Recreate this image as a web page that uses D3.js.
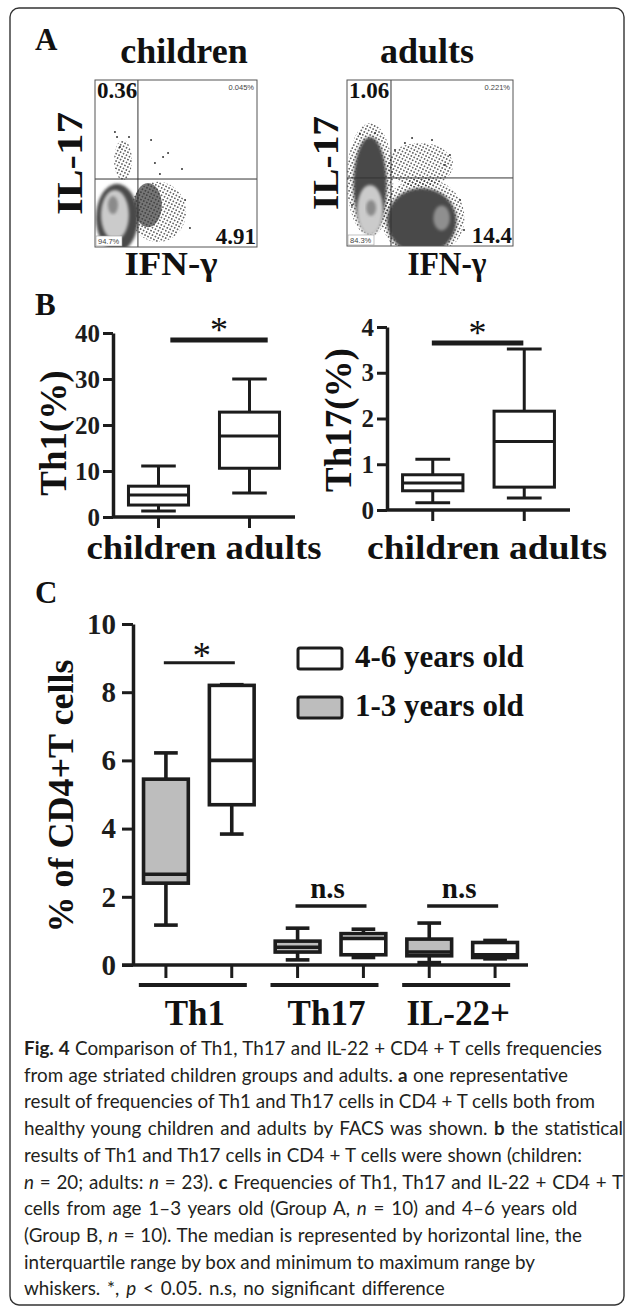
<!DOCTYPE html>
<html>
<head>
<meta charset="utf-8">
<script src="https://cdnjs.cloudflare.com/ajax/libs/d3/7.8.5/d3.min.js"></script>
<style>
  body { margin: 0; background: #fff; }
  svg text { font-family: "Liberation Serif", "Times New Roman", serif; fill: #111; }
</style>
</head>
<body>
<svg id="fig" width="627" height="1309"></svg>
<script>
// ---------- data ----------
// A: flow cytometry, quadrant percentages (children, adults)
const facsGroups = ['children', 'adults'];
const quadUL = ['0.36', '1.06'];
const quadUR = ['0.045%', '0.221%'];
const quadLL = ['94.7%', '84.3%'];
const quadLR = ['4.91', '14.4'];
const gateX = [26.5, 26.5];   // IFN-g gate, 0-100 channel units
const gateY = [40.7, 41.0];   // IL-17 gate
// populations: [kind, cx, cy, rx, ry] in channel units
const popsChildren = [
  ['speck', 38.9, 21.0, 17.3, 18.0],
  ['dense', 32.7, 25.1, 8.6, 13.2],
  ['speck', 17.3, 52.0, 5.5, 12.0],
  ['solid', 13.6, 17.4, 13.0, 20.4],
  ['light', 12.3, 19.2, 8.6, 15.0],
  ['core', 11.1, 25.1, 3.1, 5.4]
];
const popsAdults = [
  ['speck', 44.0, 48.8, 19.9, 13.3],
  ['speck', 45.8, 17.0, 25.0, 24.0],
  ['solid', 45.0, 15.0, 21.0, 20.0],
  ['speck', 13.9, 40.0, 14.0, 34.0],
  ['solid', 13.9, 36.7, 10.0, 29.0],
  ['mid', 57.0, 16.9, 5.0, 7.5],
  ['light', 13.9, 21.7, 7.8, 15.1],
  ['core', 14.5, 22.9, 3.0, 4.8]
];
// scattered single events [x, y]
const eventsChildren = [[34.6, 64.1], [45.1, 56.3], [42.0, 53.9], [37.0, 50.3], [53.7, 46.7], [40.1, 43.7],
  [13.6, 65.9], [21.0, 65.9], [15.4, 59.9], [58.6, 11.4], [55.6, 28.1], [12.3, 68.9]];
const eventsAdults = [[51.2, 63.9], [34.9, 62.0], [39.2, 65.1], [28.9, 57.8], [62.0, 54.8], [59.0, 48.8],
  [68.1, 27.7], [70.5, 9.6], [3.0, 24.7], [7.8, 67.5], [16.9, 68.1]];

// B: box plots [min, q1, median, q3, max]
const bGroups = ['children', 'adults'];
const th1Box = [[1.3, 2.6, 4.8, 6.7, 11.1], [5.2, 10.6, 17.6, 22.8, 30.0]];
const th17Box = [[0.16, 0.42, 0.59, 0.77, 1.11], [0.26, 0.50, 1.50, 2.16, 3.52]];
const th1Ticks = [0, 10, 20, 30, 40];
const th17Ticks = [0, 1, 2, 3, 4];
const th1SigY = 38.5;
const th17SigY = 3.65;

// C: age groups
const cCats = ['Th1', 'Th17', 'IL-22+'];
const cAges = ['1-3', '4-6'];
const box13 = [[1.17, 2.40, 2.66, 5.45, 6.22], [0.15, 0.38, 0.52, 0.70, 1.08], [0.07, 0.27, 0.38, 0.76, 1.23]];
const box46 = [[3.84, 4.70, 6.00, 8.20, 8.22], [0.22, 0.30, 0.78, 0.92, 1.05], [0.18, 0.22, 0.30, 0.66, 0.72]];
const cTicks = [0, 2, 4, 6, 8, 10];
const cSig = ['*', 'n.s', 'n.s'];
const cSigY = [8.86, 1.73, 1.73];
const legendLabels = ['4-6 years old', '1-3 years old'];

const captionLines = [
  [['b', 'Fig. 4'], ['', ' Comparison of Th1, Th17 and IL-22 + CD4 + T cells frequencies']],
  [['', 'from age striated children groups and adults. '], ['b', 'a'], ['', ' one representative']],
  [['', 'result of frequencies of Th1 and Th17 cells in CD4 + T cells both from']],
  [['', 'healthy young children and adults by FACS was shown. '], ['b', 'b'], ['', ' the statistical']],
  [['', 'results of Th1 and Th17 cells in CD4 + T cells were shown (children:']],
  [['i', 'n'], ['', ' = 20; adults: '], ['i', 'n'], ['', ' = 23). '], ['b', 'c'], ['', ' Frequencies of Th1, Th17 and IL-22 + CD4 + T']],
  [['', 'cells from age 1–3 years old (Group A, '], ['i', 'n'], ['', ' = 10) and 4–6 years old']],
  [['', '(Group B, '], ['i', 'n'], ['', ' = 10). The median is represented by horizontal line, the']],
  [['', 'interquartile range by box and minimum to maximum range by']],
  [['', 'whiskers. *, '], ['i', 'p'], ['', ' < 0.05. n.s, no significant difference']]
];
const captionEnds = [602, 568, 595, 623, 582, 623, 582, 582, 535, 462];

// ---------- drawing ----------
const svg = d3.select('#fig');
const ink = '#1c1c1c';
const defs = svg.append('defs');

[['speck', 3.3, 0.8], ['dense', 1.9, 0.85]].forEach(([id, s, r]) => {
  const p = defs.append('pattern').attr('id', id)
    .attr('patternUnits', 'userSpaceOnUse')
    .attr('width', s).attr('height', s)
    .attr('patternTransform', 'rotate(27)');
  p.append('circle').attr('cx', s / 2).attr('cy', s / 2).attr('r', r).attr('fill', '#333');
});
defs.append('filter').attr('id', 'soft')
  .append('feGaussianBlur').attr('stdDeviation', 1.6);

const popFill = {speck: 'url(#speck)', dense: 'url(#dense)', solid: '#484848', light: '#cbcbcb', mid: '#8f8f8f', core: '#8a8a8a'};
const blurred = new Set(['light', 'core', 'mid', 'solid']);

// outer frame
svg.append('rect').attr('x', 10).attr('y', 8).attr('width', 614).attr('height', 1297)
  .attr('rx', 9).attr('fill', 'none').attr('stroke', '#333').attr('stroke-width', 1.4);

const panelLabel = (t, x, y) => svg.append('text').attr('x', x).attr('y', y)
  .attr('font-size', 31).attr('font-weight', 'bold').text(t);
panelLabel('A', 35, 50);
panelLabel('B', 35, 315);
panelLabel('C', 35, 603);

// ----- A -----
const facsRects = [[95, 80, 162, 167], [347, 80, 166, 166]];
const facsPops = [popsChildren, popsAdults];
const facsEvents = [eventsChildren, eventsAdults];
const facsTitleX = [184, 427];
const ylabX = [82, 338];
const ylabLen = [103, 94];
const xlabX = [171, 447];
const xlabLen = [93, 79];

facsGroups.forEach((grp, i) => {
  const [px, py, pw, ph] = facsRects[i];
  const fx = d3.scaleLinear().domain([0, 100]).range([px, px + pw]);
  const fy = d3.scaleLinear().domain([0, 100]).range([py + ph, py]);
  const g = svg.append('g');

  defs.append('clipPath').attr('id', 'clip' + i)
    .append('rect').attr('x', px).attr('y', py).attr('width', pw).attr('height', ph);
  const inner = g.append('g').attr('clip-path', `url(#clip${i})`);

  inner.selectAll('ellipse').data(facsPops[i]).join('ellipse')
    .attr('cx', d => fx(d[1])).attr('cy', d => fy(d[2]))
    .attr('rx', d => fx(d[3]) - fx(0)).attr('ry', d => fy(0) - fy(d[4]))
    .attr('fill', d => popFill[d[0]])
    .attr('filter', d => blurred.has(d[0]) ? 'url(#soft)' : null);

  inner.selectAll('circle').data(facsEvents[i]).join('circle')
    .attr('cx', d => fx(d[0])).attr('cy', d => fy(d[1])).attr('r', 1)
    .attr('fill', '#333');

  // gates
  g.append('line').attr('x1', fx(gateX[i])).attr('x2', fx(gateX[i]))
    .attr('y1', fy(0)).attr('y2', fy(100)).attr('stroke', '#333').attr('stroke-width', 1);
  g.append('line').attr('x1', fx(0)).attr('x2', fx(100))
    .attr('y1', fy(gateY[i])).attr('y2', fy(gateY[i])).attr('stroke', '#333').attr('stroke-width', 1);
  g.append('rect').attr('x', px).attr('y', py).attr('width', pw).attr('height', ph)
    .attr('fill', 'none').attr('stroke', '#555').attr('stroke-width', 1);

  // quadrant labels
  g.append('text').attr('x', px + 2).attr('y', py + 18).attr('font-size', 23)
    .attr('font-weight', 'bold').text(quadUL[i]);
  g.append('text').attr('x', px + pw - 3).attr('y', py + 10).attr('text-anchor', 'end')
    .attr('font-size', 7.5).style('font-family', '"Liberation Sans", Arial, sans-serif')
    .style('fill', '#444').text(quadUR[i]);
  g.append('rect').attr('x', px + 1).attr('y', py + ph - 11).attr('width', 26).attr('height', 10)
    .attr('fill', '#fff').attr('stroke', '#999').attr('stroke-width', 0.6);
  g.append('text').attr('x', px + 3).attr('y', py + ph - 3).attr('font-size', 7.5)
    .style('font-family', '"Liberation Sans", Arial, sans-serif').style('fill', '#444').text(quadLL[i]);
  g.append('text').attr('x', px + pw - 1).attr('y', py + ph - 3).attr('text-anchor', 'end')
    .attr('font-size', 23).attr('font-weight', 'bold').text(quadLR[i]);

  // titles / axis labels
  svg.append('text').attr('x', facsTitleX[i]).attr('y', 63).attr('text-anchor', 'middle')
    .attr('font-size', 36).attr('font-weight', 'bold').text(grp);
  svg.append('text').attr('transform', `translate(${ylabX[i]},${py + ph / 2}) rotate(-90)`)
    .attr('text-anchor', 'middle').attr('font-size', 35).attr('font-weight', 'bold')
    .attr('textLength', ylabLen[i]).attr('lengthAdjust', 'spacingAndGlyphs').text('IL-17');
  svg.append('text').attr('x', xlabX[i]).attr('y', 275).attr('text-anchor', 'middle')
    .attr('font-size', 33).attr('font-weight', 'bold')
    .attr('textLength', xlabLen[i]).attr('lengthAdjust', 'spacingAndGlyphs').text('IFN-γ');
});

// ----- box helper -----
function drawBox(g, cx, bw, capW, s, y, fill, sw) {
  const [mn, q1, md, q3, mx] = s;
  const st = el => el.attr('stroke', ink).attr('stroke-width', sw);
  st(g.append('line').attr('x1', cx).attr('x2', cx).attr('y1', y(mx)).attr('y2', y(q3)));
  st(g.append('line').attr('x1', cx).attr('x2', cx).attr('y1', y(q1)).attr('y2', y(mn)));
  st(g.append('line').attr('x1', cx - capW / 2).attr('x2', cx + capW / 2).attr('y1', y(mx)).attr('y2', y(mx)));
  st(g.append('line').attr('x1', cx - capW / 2).attr('x2', cx + capW / 2).attr('y1', y(mn)).attr('y2', y(mn)));
  st(g.append('rect').attr('x', cx - bw / 2).attr('y', y(q3)).attr('width', bw)
    .attr('height', y(q1) - y(q3)).attr('fill', fill));
  st(g.append('line').attr('x1', cx - bw / 2).attr('x2', cx + bw / 2).attr('y1', y(md)).attr('y2', y(md)));
}

function styleAxis(ax, fs) {
  ax.attr('font-family', null).attr('font-size', null);
  ax.select('.domain').attr('stroke', ink).attr('stroke-width', 3.5);
  ax.selectAll('.tick line').attr('stroke', ink).attr('stroke-width', 3);
  ax.selectAll('.tick text').attr('font-size', fs).attr('font-weight', 'bold').style('fill', ink);
}

// ----- B -----
const bPlots = [
  {stats: th1Box, ticks: th1Ticks, sigY: th1SigY, label: 'Th1(%)', x0: 113, x1: 295, y0: 517, y1: 333,
    labX: 66, labY: 433, catX: 204, catLen: 235, sig: [0.13, 0.2]},
  {stats: th17Box, ticks: th17Ticks, sigY: th17SigY, label: 'Th17(%)', x0: 387, x1: 570, y0: 510, y1: 327,
    labX: 351, labY: 420, catX: 487, catLen: 240, sig: [-0.01, -0.01]}
];

bPlots.forEach(p => {
  const g = svg.append('g');
  const top = p.ticks[p.ticks.length - 1];
  const y = d3.scaleLinear().domain([0, top]).range([p.y0, p.y1]);
  const x = d3.scaleBand().domain(bGroups).range([p.x0, p.x1]);
  const bw = x.bandwidth();

  const ax = g.append('g').attr('transform', `translate(${p.x0},0)`)
    .call(d3.axisLeft(y).tickValues(p.ticks).tickFormat(d3.format('d'))
      .tickSize(10).tickSizeOuter(0).tickPadding(3));
  styleAxis(ax, 25);

  g.append('line').attr('x1', p.x0).attr('x2', p.x1).attr('y1', p.y0).attr('y2', p.y0)
    .attr('stroke', ink).attr('stroke-width', 3.5);
  g.selectAll('.xt').data(bGroups).join('line').attr('class', 'xt')
    .attr('x1', d => x(d) + bw / 2).attr('x2', d => x(d) + bw / 2)
    .attr('y1', p.y0).attr('y2', p.y0 + 11).attr('stroke', ink).attr('stroke-width', 3);

  bGroups.forEach((grp, k) => drawBox(g, x(grp) + bw / 2, bw * 0.66, bw * 0.38, p.stats[k], y, '#fff', 3));

  // significance
  const sx1 = x(bGroups[0]) + bw * (0.5 + p.sig[0]);
  const sx2 = x(bGroups[1]) + bw * (0.5 + p.sig[1]);
  g.append('line').attr('x1', sx1).attr('x2', sx2).attr('y1', y(p.sigY)).attr('y2', y(p.sigY))
    .attr('stroke', ink).attr('stroke-width', 5);
  g.append('text').attr('x', (sx1 + sx2) / 2).attr('y', y(p.sigY) + 2).attr('text-anchor', 'middle')
    .attr('font-size', 36).text('*');

  g.append('text').attr('transform', `translate(${p.labX},${p.labY}) rotate(-90)`)
    .attr('text-anchor', 'middle').attr('font-size', 37).attr('font-weight', 'bold').text(p.label);
  g.append('text').attr('x', p.catX).attr('y', 559).attr('text-anchor', 'middle')
    .attr('font-size', 34).attr('font-weight', 'bold')
    .attr('textLength', p.catLen).attr('lengthAdjust', 'spacingAndGlyphs').text(bGroups.join(' '));
});

// ----- C -----
{
  const g = svg.append('g');
  const y = d3.scaleLinear().domain([0, 10]).range([965, 624]);
  const x = d3.scaleBand().domain(cCats).range([133, 528]);
  const sub = d3.scaleBand().domain(cAges).range([0, x.bandwidth()]);
  const sbw = sub.bandwidth();
  const pos = (c, a) => x(c) + sub(a) + sbw / 2;

  const ax = g.append('g').attr('transform', 'translate(133,0)')
    .call(d3.axisLeft(y).tickValues(cTicks).tickSize(11).tickSizeOuter(0).tickPadding(6));
  styleAxis(ax, 29);

  g.append('line').attr('x1', 122).attr('x2', 528).attr('y1', 965).attr('y2', 965)
    .attr('stroke', ink).attr('stroke-width', 3.5);

  cCats.forEach((c, k) => {
    cAges.forEach(a => {
      g.append('line').attr('x1', pos(c, a)).attr('x2', pos(c, a)).attr('y1', 965).attr('y2', 978)
        .attr('stroke', ink).attr('stroke-width', 3);
    });
    drawBox(g, pos(c, '1-3'), sbw * 0.68, sbw * 0.36, box13[k], y, '#bdbdbd', 3.6);
    drawBox(g, pos(c, '4-6'), sbw * 0.68, sbw * 0.36, box46[k], y, '#fff', 3.6);

    const gc = x(c) + x.bandwidth() / 2;
    // group underline and label
    g.append('line').attr('x1', gc - 60).attr('x2', gc + 48).attr('y1', 985).attr('y2', 985)
      .attr('stroke', ink).attr('stroke-width', 4);
    g.append('text').attr('x', gc - 4).attr('y', 1025).attr('text-anchor', 'middle')
      .attr('font-size', 35).attr('font-weight', 'bold').text(c);

    // significance
    g.append('line').attr('x1', gc - 35).attr('x2', gc + 36).attr('y1', y(cSigY[k])).attr('y2', y(cSigY[k]))
      .attr('stroke', ink).attr('stroke-width', cSig[k] === '*' ? 3 : 3.5);
    if (cSig[k] === '*') {
      g.append('text').attr('x', gc + 3).attr('y', y(cSigY[k]) + 5).attr('text-anchor', 'middle')
        .attr('font-size', 37).text('*');
    } else {
      g.append('text').attr('x', gc - 3).attr('y', y(cSigY[k]) - 8).attr('text-anchor', 'middle')
        .attr('font-size', 29).attr('font-weight', 'bold').text(cSig[k]);
    }
  });

  g.append('text').attr('transform', 'translate(73,796) rotate(-90)')
    .attr('text-anchor', 'middle').attr('font-size', 36).attr('font-weight', 'bold')
    .text('% of CD4+T cells');

  // legend
  const legFill = ['#fff', '#bdbdbd'];
  legendLabels.forEach((t, k) => {
    const ly = 648 + k * 49;
    g.append('rect').attr('x', 298).attr('y', ly).attr('width', 44).attr('height', 21).attr('rx', 2)
      .attr('fill', legFill[k]).attr('stroke', ink).attr('stroke-width', 3);
    g.append('text').attr('x', 355).attr('y', ly + 19).attr('font-size', 31)
      .attr('font-weight', 'bold').text(t);
  });
}

// ----- caption -----
// measure at 20px, then pick one font size that best fits the reference line ends
const cap = svg.append('g');
const capTexts = captionLines.map((segs, i) => {
  const t = cap.append('text').attr('x', 24).attr('y', 1055 + i * 26.7)
    .attr('font-size', 20).style('font-family', 'Lato, "Open Sans", sans-serif').style('fill', '#231f20');
  segs.forEach(([k, s]) => {
    t.append('tspan').attr('font-weight', k === 'b' ? 'bold' : null)
      .attr('font-style', k === 'i' ? 'italic' : null).text(s);
  });
  return t;
});
const ratios = capTexts.map((t, i) => (captionEnds[i] - 24) / t.node().getComputedTextLength());
const capSize = 20 * Math.min(d3.median(ratios), d3.min(ratios) * 1.0);
capTexts.forEach((t, i) => {
  t.attr('font-size', capSize);
  const w = t.node().getComputedTextLength();
  const words = t.text().split(' ').length - 1;
  const extra = (captionEnds[i] - 24 - w) / Math.max(words, 1);
  t.attr('word-spacing', Math.max(-1.5, Math.min(2, extra)));
});
</script>
</body>
</html>
